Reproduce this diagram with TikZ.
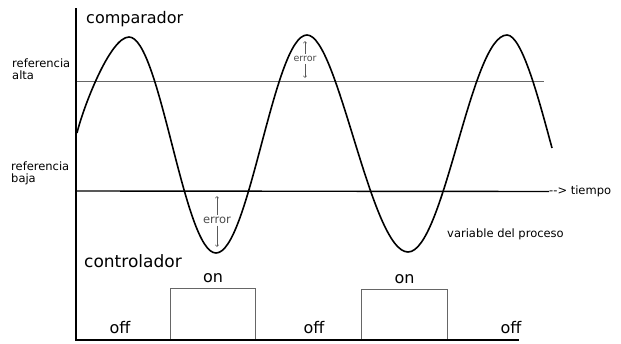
\documentclass[tikz,border=0pt]{standalone}
\usepackage{fontspec}
\setmainfont{DejaVu Sans}
\usetikzlibrary{arrows.meta,positioning}

\begin{document}
\begin{tikzpicture}[x=1pt, y=-1pt,
  axisline/.style={line width=2pt, black},
  refline/.style={line width=1.4pt},
  wave/.style={line width=1.6pt, black},
  pulse/.style={draw, line width=1.3pt, gray!80!black, inner sep=0pt,
                anchor=south west},
  errarrow/.style={-{Straight Barb[length=1.8pt,width=3.4pt]},
                   line width=0.6pt, gray!70!black},
  lbl/.style={inner sep=0pt, font=\fontsize{11.5}{12}\selectfont, align=left},
  bigtxt/.style={inner sep=0pt, font=\fontsize{16}{18}\selectfont},
  errtxt/.style={inner sep=2pt, text=gray!60!black}
]
  \path[use as bounding box] (0,0) rectangle (621,343);

  % reference lines
  \coordinate (altaL) at (76,81.5);
  \coordinate (altaR) at (544,81.5);
  \coordinate (bajaL) at (76,191);
  \draw[refline, gray!80!black] (altaL) -- (altaR);
  \node[lbl, anchor=west] (tiempo) at (549,191.5) {-{}-> tiempo};
  \draw[refline] (bajaL) -- (tiempo.west);

  \node[lbl, anchor=base west] (alta) at (12,79) {referencia\\alta};
  \node[lbl, anchor=base west] (baja) at (11,182) {referencia\\baja};

  % process variable
  \draw[wave] (77,133) .. controls (83,108) and (110,37) .. (129,37)
    .. controls (160,37) and (184,253) .. (216,253)
    .. controls (249,253) and (274,35) .. (307,35)
    .. controls (338,35) and (371,252) .. (408,252)
    .. controls (444,252) and (471,35) .. (507,35)
    .. controls (522,35) and (539,100) .. (552,148);
  \node[lbl, anchor=base west] (pv) at (447,237) {variable del proceso};

  % error marks
  \node[errtxt, font=\fontsize{9.5}{10}\selectfont] (errA) at (305,59) {error};
  \coordinate (errAtop) at (305,41);
  \coordinate (errAbot) at (305,78);
  \draw[errarrow] (errA) -- (errAtop);
  \draw[errarrow] (errA) -- (errAbot);
  \node[errtxt, font=\fontsize{11.5}{12}\selectfont] (errB) at (217,220) {error};
  \coordinate (errBtop) at (217,196);
  \coordinate (errBbot) at (217,247);
  \draw[errarrow] (errB) -- (errBtop);
  \draw[errarrow] (errB) -- (errBbot);

  % controller output
  \node[pulse, minimum width=85pt, minimum height=51pt] (on1) at (170,340) {};
  \node[pulse, minimum width=86pt, minimum height=50pt] (on2) at (361,340) {};
  \node[bigtxt, above=5pt of on1] (on1lbl) {on};
  \node[bigtxt, above=5pt of on2] (on2lbl) {on};
  \node[bigtxt, anchor=base] (off1) at (120,333) {off};
  \node[bigtxt, anchor=base] (off2) at (314,333) {off};
  \node[bigtxt, anchor=base] (off3) at (511,333) {off};

  % axes
  \coordinate (top) at (76,8);
  \coordinate (orig) at (76,340);
  \coordinate (tend) at (519,340);
  \draw[axisline] (top) -- (orig) -- (tend);

  \node[bigtxt, anchor=base west] (comp) at (86,23) {comparador};
  \node[bigtxt, anchor=base west, font=\fontsize{17}{19}\selectfont]
    (ctrl) at (84,267) {controlador};
\end{tikzpicture}
\end{document}
